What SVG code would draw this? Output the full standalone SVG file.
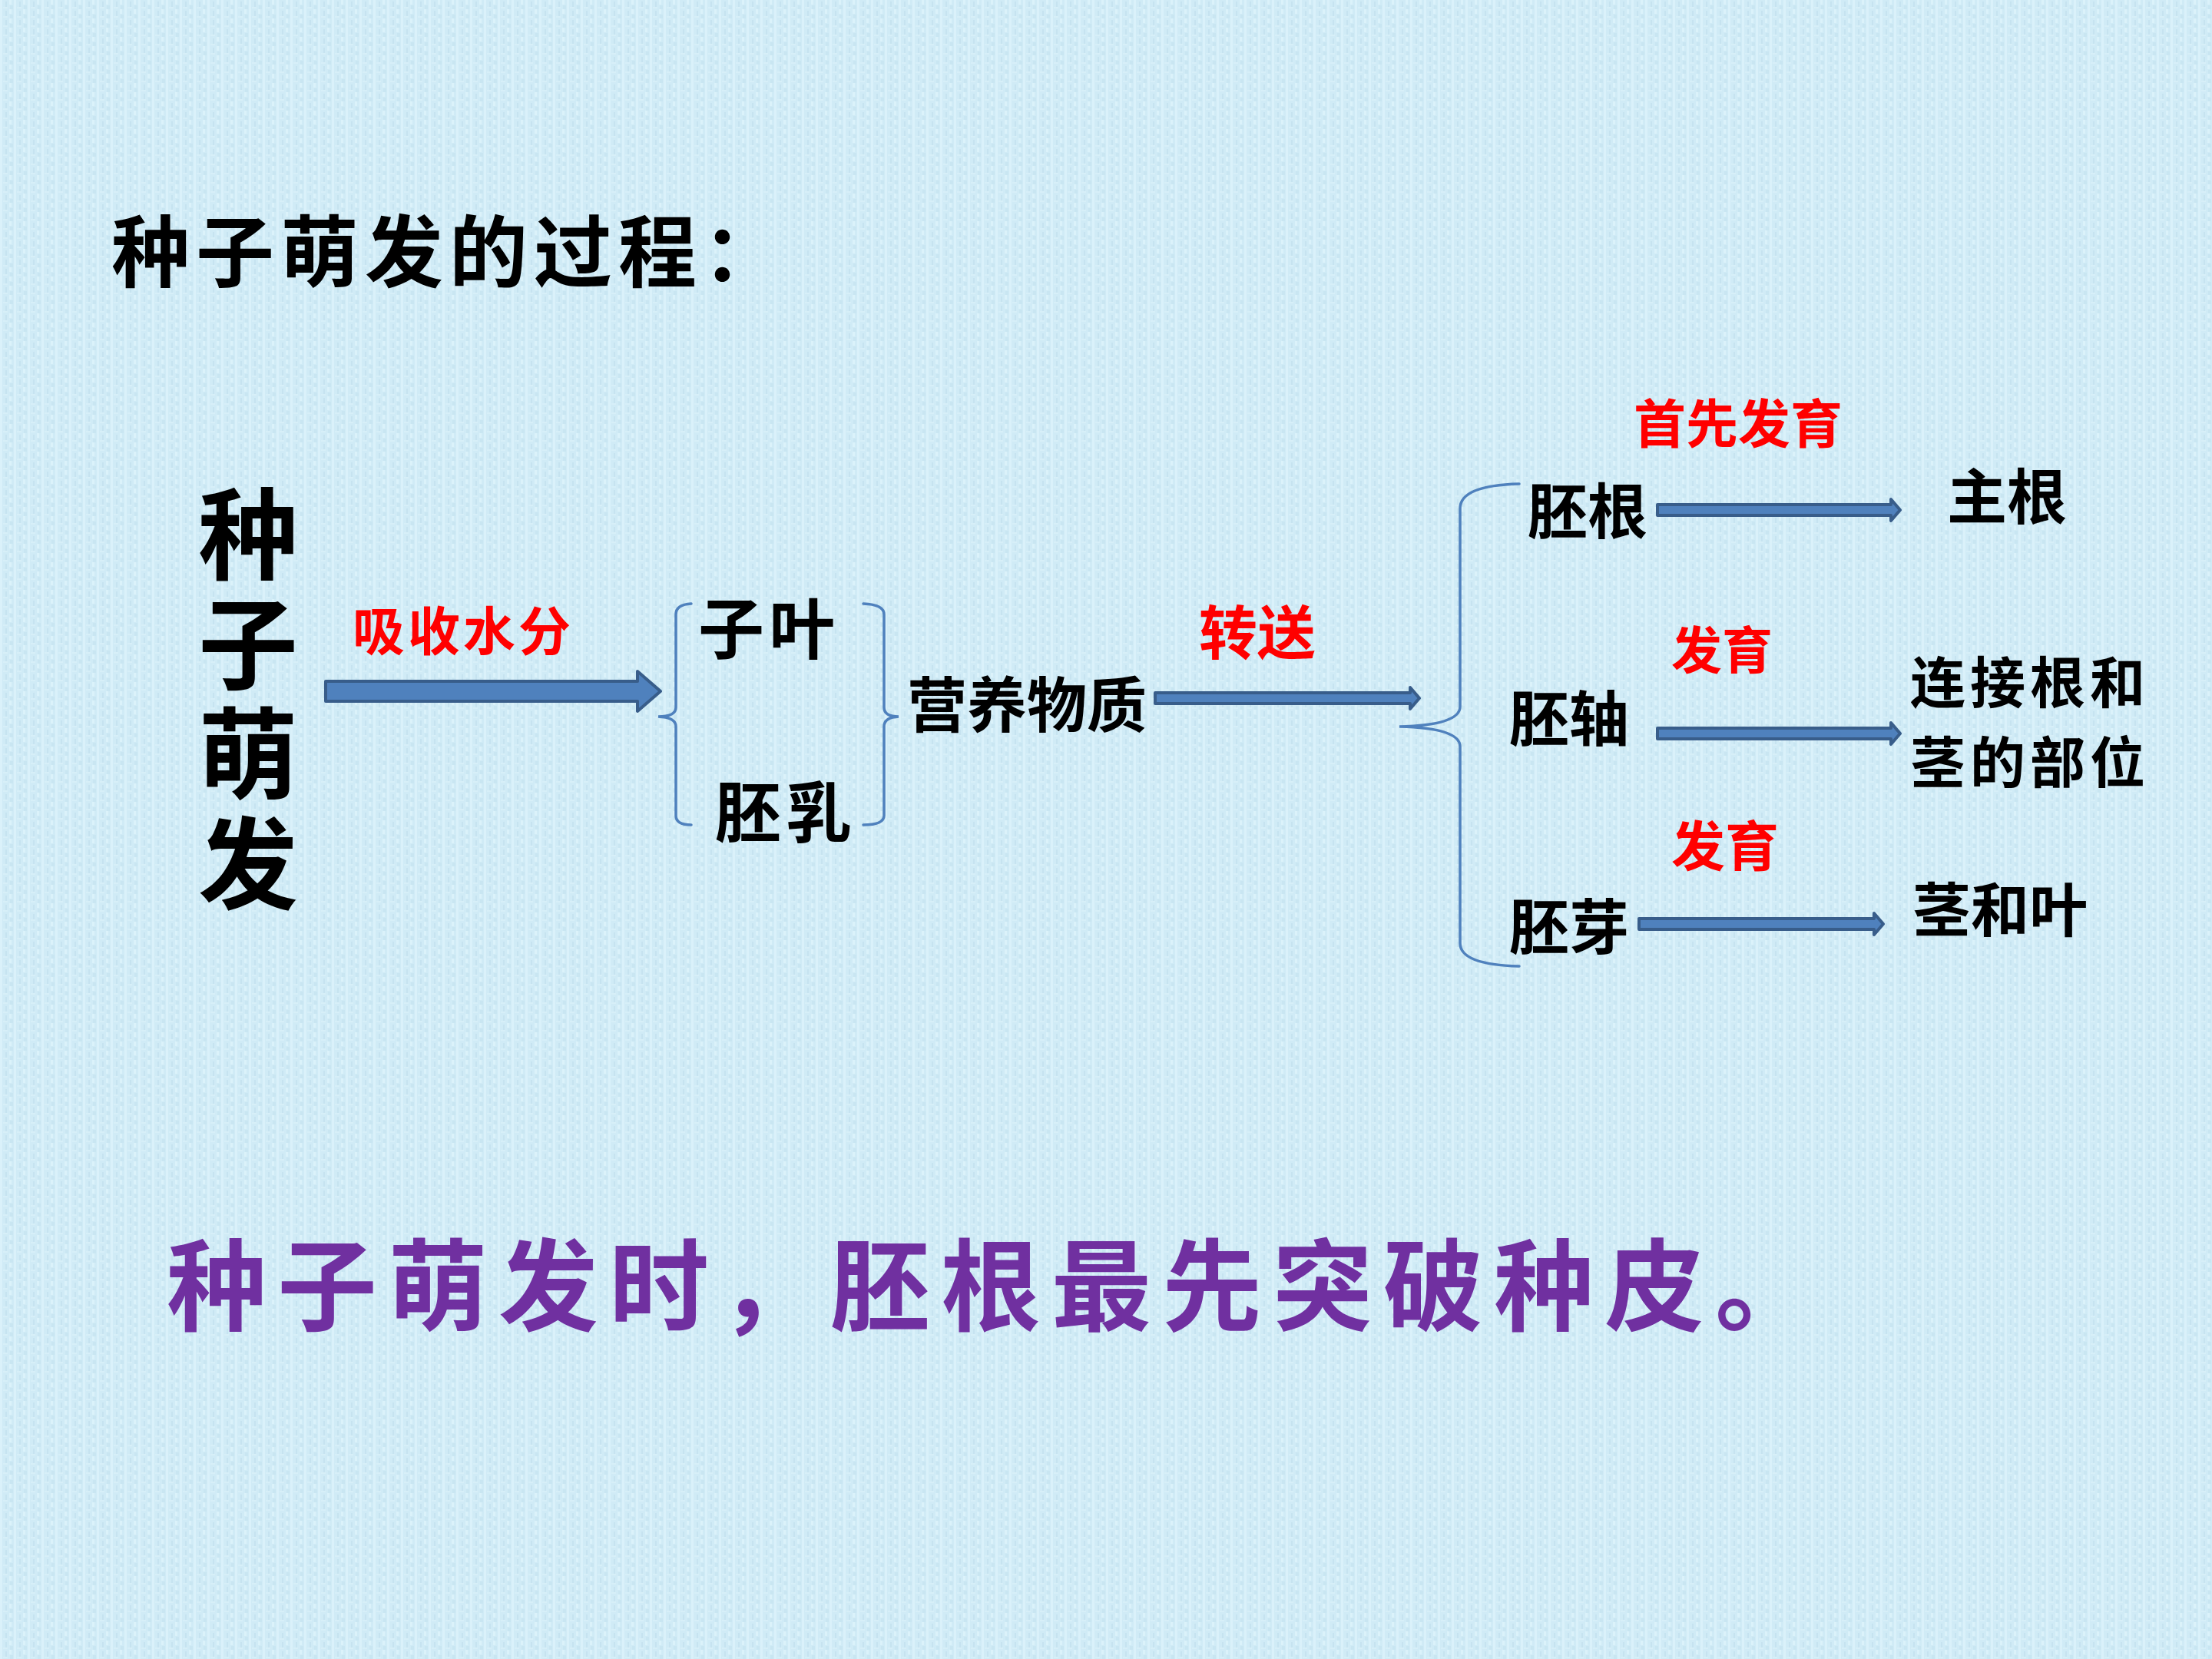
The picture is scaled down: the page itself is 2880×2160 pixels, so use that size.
<svg xmlns="http://www.w3.org/2000/svg" width="2880" height="2160" viewBox="0 0 2880 2160">
<defs>
<style>
.t{font-family:"Noto Sans CJK SC","Noto Sans CJK TC",sans-serif;font-weight:700;fill:#000}
.r{fill:#ff0000}
.p{fill:#7030a0}
.v{writing-mode:vertical-rl;text-orientation:upright}
.arrow{fill:#4f81bd;stroke:#385d8a;stroke-width:4;stroke-linejoin:round}
.brace{fill:none;stroke:#4f81bd;stroke-width:3.5;stroke-linecap:round}
</style>
<pattern id="tex" width="18" height="12" patternUnits="userSpaceOnUse">
<rect width="18" height="12" fill="#d0ebf6"/>
<rect x="0" y="0" width="3" height="12" fill="#daf1fa"/>
<rect x="7" y="2" width="2" height="8" fill="#c6e3f0"/>
<rect x="12" y="0" width="3" height="6" fill="#dbf2fa"/>
<rect x="13" y="7" width="4" height="5" fill="#c9e6f2"/>
<rect x="4" y="9" width="6" height="2" fill="#d7eff8"/>
</pattern>
</defs>
<rect width="2880" height="2160" fill="url(#tex)"/>

<g id="title"><text class="t" x="145" y="366" font-size="102" letter-spacing="8">种子萌发的过程：</text></g>

<g id="seed">
<text class="t v" x="323" y="630" font-size="130" letter-spacing="13">种子萌发</text>
</g>

<g id="label-absorb"><text class="t r" x="459" y="847" font-size="68" letter-spacing="4">吸收水分</text></g>
<g id="node-cotyledon"><text class="t" x="909" y="851" font-size="86" letter-spacing="6">子叶</text></g>
<g id="node-endosperm"><text class="t" x="931" y="1090" font-size="86" letter-spacing="6">胚乳</text></g>
<g id="node-nutrient"><text class="t" x="1181" y="947" font-size="78">营养物质</text></g>
<g id="label-transport"><text class="t r" x="1561" y="852" font-size="76">转送</text></g>
<g id="label-first"><text class="t r" x="2127" y="577" font-size="68">首先发育</text></g>
<g id="node-radicle"><text class="t" x="1989" y="695" font-size="78">胚根</text></g>
<g id="node-mainroot"><text class="t" x="2535" y="676" font-size="78">主根</text></g>
<g id="label-dev1"><text class="t r" x="2176" y="871" font-size="66">发育</text></g>
<g id="node-hypocotyl"><text class="t" x="1965" y="965" font-size="78">胚轴</text></g>
<g id="node-connect">
<text class="t" x="2487" y="915" font-size="72" letter-spacing="6">连接根和</text>
<text class="t" x="2487" y="1019" font-size="72" letter-spacing="6">茎的部位</text>
</g>
<g id="label-dev2"><text class="t r" x="2176" y="1128" font-size="70">发育</text></g>
<g id="node-plumule"><text class="t" x="1965" y="1236" font-size="78">胚芽</text></g>
<g id="node-stemleaf"><text class="t" x="2490" y="1213" font-size="76">茎和叶</text></g>

<g id="conclusion"><text class="t p" x="217" y="1722" font-size="130" letter-spacing="14">种子萌发时，胚根最先突破种皮。</text></g>

<g id="connectors">
<path class="arrow" d="M424,887 L830,887 L830,874 L860,900 L830,926 L830,913 L424,913 Z"/>
<path class="arrow" d="M1504,902 L1836,902 L1836,895 L1848,909 L1836,923 L1836,916 L1504,916 Z"/>
<path class="arrow" d="M2158,657 L2462,657 L2462,650 L2474,664 L2462,678 L2462,671 L2158,671 Z"/>
<path class="arrow" d="M2158,948 L2462,948 L2462,941 L2474,955 L2462,969 L2462,962 L2158,962 Z"/>
<path class="arrow" d="M2134,1196 L2440,1196 L2440,1189 L2452,1203 L2440,1217 L2440,1210 L2134,1210 Z"/>
<path class="brace" d="M900,786 Q880,787 880,800 L880,921 Q880,933 857,933 Q880,934 880,946 L880,1062 Q880,1074 900,1074"/>
<path class="brace" d="M1124,786 Q1151,787 1151,800 L1151,921 Q1151,933 1170,933 Q1151,934 1151,946 L1151,1062 Q1151,1074 1124,1074"/>
<path class="brace" d="M1978,630 Q1901,632 1901,662 L1901,920 Q1901,944 1822,946 Q1901,948 1901,972 L1901,1228 Q1901,1256 1978,1258"/>
</g>
</svg>
